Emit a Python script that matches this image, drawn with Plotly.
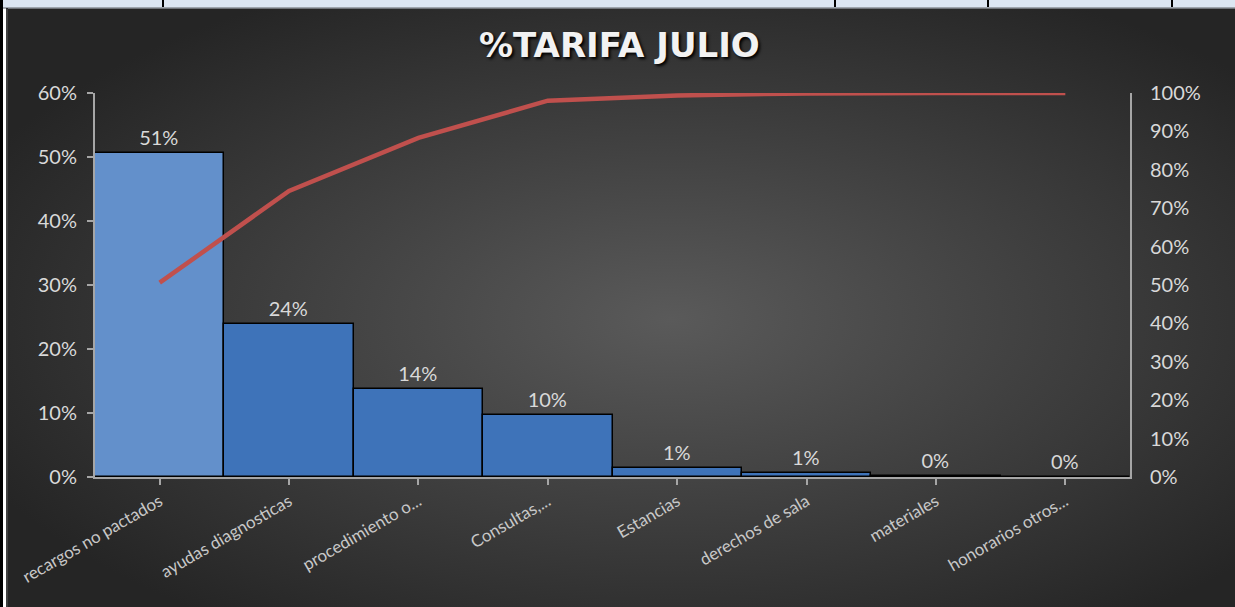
import urllib.parse
import numpy as np
import plotly.graph_objects as go

categories = ["recargos no pactados", "ayudas diagnosticas", "procedimiento o...",
              "Consultas,...", "Estancias", "derechos de sala", "materiales",
              "honorarios otros..."]
share = [0.506, 0.239, 0.138, 0.097, 0.0135, 0.0055, 0.001, 0.000]
left_ticks = [0, 0.1, 0.2, 0.3, 0.4, 0.5, 0.6]
right_ticks = [0, 0.1, 0.2, 0.3, 0.4, 0.5, 0.6, 0.7, 0.8, 0.9, 1.0]
cumulative = list(np.cumsum(share))

W, H = 1235, 607
L, R, T, B = 95, 1130, 93, 477


def px(x):
    return (x - L) / (R - L)


def py(y):
    return (B - y) / (B - T)


bar_colors = ["#6390cb"] + ["#3e73b9"] * (len(categories) - 1)

fig = go.Figure()
fig.add_trace(go.Bar(
    x=categories, y=share, width=1.0,
    marker=dict(color=bar_colors, line=dict(color="#000000", width=1.5)),
    text=[f"{v:.0%}" for v in share], textposition="outside",
    textfont=dict(family="Lato", size=20, color="#d9d9d9"),
    cliponaxis=False, hoverinfo="skip", showlegend=False,
))
fig.add_trace(go.Scatter(
    x=categories, y=cumulative, yaxis="y2", mode="lines",
    line=dict(color="#c0504d", width=4.5), hoverinfo="skip", showlegend=False,
))

svg = (
    "<svg xmlns='http://www.w3.org/2000/svg' width='1227' height='599'>"
    "<defs><radialGradient id='g' cx='54%' cy='52%' r='62%'>"
    "<stop offset='0%' stop-color='#5a5a5a'/>"
    "<stop offset='100%' stop-color='#252525'/>"
    "</radialGradient></defs>"
    "<rect width='1227' height='599' fill='url(#g)'/></svg>"
)
src = "data:image/svg+xml;charset=utf-8," + urllib.parse.quote(svg)

fig.add_layout_image(dict(
    source=src, xref="paper", yref="paper",
    x=px(8), y=py(8), sizex=px(W) - px(8), sizey=py(8) - py(H),
    xanchor="left", yanchor="top", sizing="stretch", layer="below",
))

shapes = [
    dict(type="rect", xref="paper", yref="paper", x0=px(0), x1=px(W), y0=py(0), y1=py(8),
         fillcolor="#dce6f2", line=dict(width=0), layer="below"),
    dict(type="line", xref="paper", yref="paper", x0=px(0), x1=px(W), y0=py(8), y1=py(8),
         line=dict(color="#8a8f96", width=1.5)),
    dict(type="line", xref="paper", yref="paper", x0=px(1.5), x1=px(1.5), y0=py(0), y1=py(H),
         line=dict(color="#000000", width=3)),
    dict(type="line", xref="paper", yref="paper", x0=px(7), x1=px(7), y0=py(8), y1=py(H),
         line=dict(color="#000000", width=1.5)),
]
for xv in [163, 835, 988, 1172]:
    shapes.append(dict(type="line", xref="paper", yref="paper", x0=px(xv), x1=px(xv),
                       y0=py(0), y1=py(7), line=dict(color="#000000", width=2)))

fig.update_layout(
    width=W, height=H,
    margin=dict(l=L, r=W - R, t=T, b=H - B),
    paper_bgcolor="#ffffff", plot_bgcolor="rgba(0,0,0,0)",
    bargap=0, showlegend=False, shapes=shapes,
    xaxis=dict(range=[-0.5, 7.5], showline=True, linecolor="#a6a6a6", linewidth=2,
               ticks="outside", ticklen=6, tickcolor="#a6a6a6", tickwidth=2,
               tickangle=-30, showgrid=False, zeroline=False,
               tickfont=dict(family="Lato", size=17, color="#c8c8c8")),
    yaxis=dict(range=[0, 0.6], tickvals=left_ticks, tickformat=".0%", showline=True,
               linecolor="#a6a6a6", linewidth=2, ticks="outside", ticklen=6,
               tickcolor="#a6a6a6", tickwidth=2, showgrid=False, zeroline=False,
               ticklabelstandoff=6,
               tickfont=dict(family="Lato", size=20, color="#d9d9d9")),
    yaxis2=dict(range=[0, 1.0], tickvals=right_ticks, tickformat=".0%", overlaying="y",
                side="right", showline=True, linecolor="#a6a6a6", linewidth=2,
                ticks="", showgrid=False, zeroline=False, ticklabelstandoff=14,
                tickfont=dict(family="Lato", size=20, color="#d9d9d9")),
    annotations=[dict(
        text="<b>%TARIFA JULIO</b>", xref="paper", yref="paper",
        x=px(619), y=py(45), xanchor="center", yanchor="middle", showarrow=False,
        font=dict(family="DejaVu Sans", size=34, color="#f2f2f2",
                  shadow="2px 2px 3px #000000"),
    )],
)

fig.write_html("out.html", config={"displayModeBar": False},
               post_script="document.body.style.margin='0';")
